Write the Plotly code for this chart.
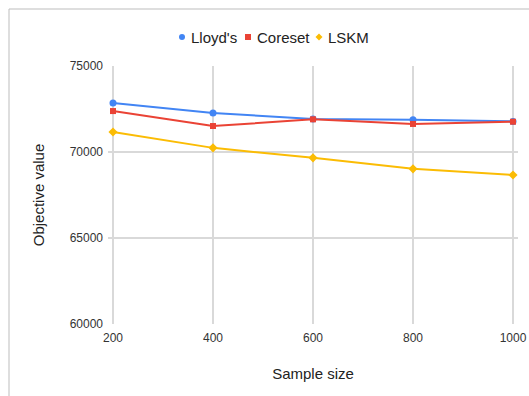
import plotly.graph_objects as go

sample_sizes = [200, 400, 600, 800, 1000]
lloyds = [72850, 72270, 71920, 71880, 71780]
coreset = [72380, 71510, 71900, 71630, 71760]
lskm = [71160, 70240, 69660, 69020, 68660]

y_ticks = [60000, 65000, 70000, 75000]
y_labels = ["60000", "65000", "70000", "75000"]

series = [
    ("Lloyd's", lloyds, "#4285F4", "circle", 7),
    ("Coreset", coreset, "#EA4335", "square", 6),
    ("LSKM", lskm, "#FBBC04", "diamond", 7),
]

fig = go.Figure()
for name, vals, color, symbol, msize in series:
    fig.add_trace(go.Scatter(
        x=sample_sizes, y=vals, name=name, mode="lines+markers",
        line=dict(color=color, width=2),
        marker=dict(color=color, symbol=symbol, size=msize),
        showlegend=False,
    ))

L, R, T, B = 108, 11, 66, 72
W, H = 529, 396
pw, ph = W - L - R, H - T - B


def px(x):
    return (x - L) / pw


def py(y):
    return 1 - (y - T) / ph


# frame lines along the top and left edges of the card
frame = dict(type="line", xref="paper", yref="paper",
             line=dict(color="#bdbdbd", width=1))
fig.add_shape(**frame, x0=px(9), x1=px(W), y0=py(9), y1=py(9))
fig.add_shape(**frame, x0=px(9), x1=px(9), y0=py(9), y1=py(H))

# compact legend above the plot: small marker followed by its label
legend_y = py(37)
legend_slots = [(182, 189), (248, 255), (319, 326)]
for (name, vals, color, symbol, msize), (mx, tx) in zip(series, legend_slots):
    base = dict(xref="paper", yref="paper", xsizemode="pixel", ysizemode="pixel",
                xanchor=px(mx), yanchor=legend_y,
                fillcolor=color, line=dict(width=0))
    if symbol == "circle":
        fig.add_shape(type="circle", x0=-3, x1=3, y0=-3, y1=3, **base)
    elif symbol == "square":
        fig.add_shape(type="rect", x0=-3, x1=3, y0=-3, y1=3, **base)
    else:
        fig.add_shape(type="path", path="M 0 3.5 L 3.5 0 L 0 -3.5 L -3.5 0 Z", **base)
    fig.add_annotation(text=name, xref="paper", yref="paper", x=px(tx), y=legend_y,
                       xanchor="left", yanchor="middle", showarrow=False,
                       font=dict(size=15, color="#222222"))

fig.update_layout(
    width=W, height=H,
    margin=dict(l=L, r=R, t=T, b=B, autoexpand=False),
    paper_bgcolor="white", plot_bgcolor="white",
    font=dict(family="Liberation Sans, Arial, sans-serif", size=12, color="#222222"),
    showlegend=False,
    xaxis=dict(
        range=[190, 1010], tickvals=sample_sizes,
        showgrid=True, gridcolor="#d9d9d9", gridwidth=1.5,
        zeroline=False, showline=False, automargin=False,
        ticklabelstandoff=5,
        tickfont=dict(size=12, color="#333333"),
        title=dict(text="Sample size", font=dict(size=15, color="#222222"), standoff=24),
    ),
    yaxis=dict(
        range=[60000, 75000], tickvals=y_ticks, ticktext=y_labels,
        showgrid=True, gridcolor="#d9d9d9", gridwidth=1.5,
        zeroline=False, showline=False, automargin=False,
        ticklabelstandoff=4,
        tickfont=dict(size=12, color="#333333"),
        title=dict(text="Objective value", font=dict(size=15, color="#222222"), standoff=21),
    ),
)

fig.write_html("out.html")
